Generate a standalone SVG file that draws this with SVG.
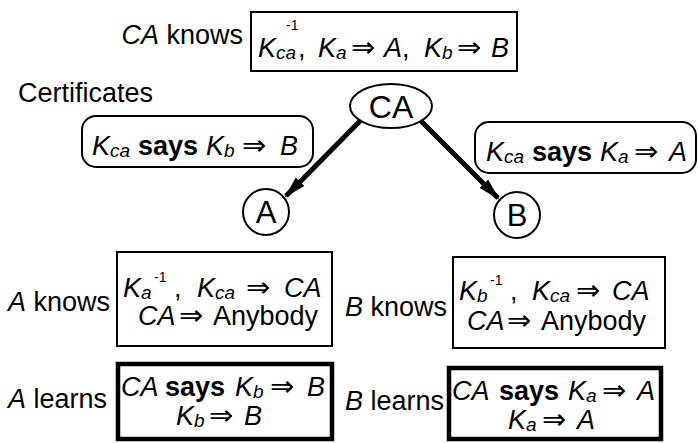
<svg xmlns="http://www.w3.org/2000/svg" width="698" height="443" viewBox="0 0 698 443">
<style>
text{font-family:"Liberation Sans","DejaVu Sans",sans-serif;font-size:27px;fill:#000}
.i{font-style:italic}
.s{font-size:19px;font-style:italic}
.sup{font-size:14px}
.b{font-weight:bold}
.ar{font-family:"DejaVu Sans",sans-serif;font-size:29px}
.box{fill:#fff;stroke:#000;stroke-width:2}
.thick{fill:#fff;stroke:#000;stroke-width:4.5}
.node{fill:#fff;stroke:#000;stroke-width:2}
.edge{stroke:#000;stroke-width:5;fill:none}
</style>
<defs>
<marker id="ah" markerUnits="userSpaceOnUse" markerWidth="24" markerHeight="14" refX="20" refY="7" orient="auto">
<path d="M0,1 L22,7 L0,13 Z" fill="#000"/>
</marker>
</defs>

<g id="ca-knows">
<text x="243" y="44" text-anchor="end"><tspan class="i">CA</tspan> knows</text>
<rect class="box" x="251" y="12" width="266" height="59"/>
<text x="258" y="57"><tspan class="i">K</tspan><tspan class="s" dy="2">ca</tspan><tspan class="sup" x="286" dy="-29">-1</tspan><tspan dy="27" x="298">,</tspan><tspan x="318" class="i">K</tspan><tspan class="s" dy="2">a</tspan><tspan class="ar" dy="-2" x="351">⇒</tspan><tspan class="i" x="384">A</tspan><tspan x="402">,</tspan><tspan x="424" class="i">K</tspan><tspan class="s" dy="2">b</tspan><tspan class="ar" dy="-2" x="457">⇒</tspan><tspan class="i" x="491">B</tspan></text>
</g>

<text x="18" y="102">Certificates</text>

<g id="CA">
<ellipse class="node" cx="391" cy="106" rx="41" ry="22"/>
<text x="391" y="118" text-anchor="middle" style="font-size:32px">CA</text>
</g>

<g id="cert-b">
<rect class="box" x="82" y="116" width="231" height="51" rx="14"/>
<text x="92" y="155"><tspan class="i">K</tspan><tspan class="s" dy="2">ca</tspan><tspan class="b" dy="-2" x="138">says</tspan><tspan class="i" x="206">K</tspan><tspan class="s" dy="2">b</tspan><tspan class="ar" dy="-2" x="242">⇒</tspan><tspan class="i" x="280">B</tspan></text>
</g>

<g id="cert-a">
<rect class="box" x="475" y="122" width="221" height="51" rx="14"/>
<text x="486" y="161"><tspan class="i">K</tspan><tspan class="s" dy="2">ca</tspan><tspan class="b" dy="-2" x="532">says</tspan><tspan class="i" x="600">K</tspan><tspan class="s" dy="2">a</tspan><tspan class="ar" dy="-2" x="634">⇒</tspan><tspan class="i" x="669">A</tspan></text>
</g>

<g id="A">
<circle class="node" cx="266" cy="212" r="23"/>
<text x="266" y="223" text-anchor="middle" style="font-size:31px">A</text>
</g>

<g id="B">
<circle class="node" cx="517" cy="215" r="23"/>
<text x="517" y="226" text-anchor="middle" style="font-size:31px">B</text>
</g>

<g id="connectors">
<line class="edge" x1="360" y1="121" x2="286" y2="196" marker-end="url(#ah)"/>
<line class="edge" x1="421" y1="121" x2="498" y2="198" marker-end="url(#ah)"/>
</g>

<g id="a-knows">
<text x="8" y="311"><tspan class="i">A</tspan> knows</text>
<rect class="box" x="117" y="252" width="215" height="94"/>
<text x="123" y="297"><tspan class="i">K</tspan><tspan class="s" dy="2">a</tspan><tspan class="sup" x="154" dy="-17">-1</tspan><tspan dy="15" x="174">,</tspan><tspan class="i" x="197">K</tspan><tspan class="s" dy="2">ca</tspan><tspan class="ar" dy="-2" x="246">⇒</tspan><tspan class="i" x="284">CA</tspan></text>
<text x="138" y="325"><tspan class="i">CA</tspan><tspan class="ar" x="179">⇒</tspan><tspan x="213">Anybody</tspan></text>
</g>

<g id="b-knows">
<text x="345" y="316"><tspan class="i">B</tspan> knows</text>
<rect class="box" x="453" y="257" width="212" height="91"/>
<text x="459" y="300"><tspan class="i">K</tspan><tspan class="s" dy="2">b</tspan><tspan class="sup" x="490" dy="-17">-1</tspan><tspan dy="15" x="510">,</tspan><tspan class="i" x="532">K</tspan><tspan class="s" dy="2">ca</tspan><tspan class="ar" dy="-2" x="576">⇒</tspan><tspan class="i" x="612">CA</tspan></text>
<text x="467" y="330"><tspan class="i">CA</tspan><tspan class="ar" x="507">⇒</tspan><tspan x="541">Anybody</tspan></text>
</g>

<g id="a-learns">
<text x="8" y="408"><tspan class="i">A</tspan> learns</text>
<rect class="thick" x="118" y="364" width="214" height="75"/>
<text x="121" y="396"><tspan class="i">CA</tspan><tspan class="b" x="165">says</tspan><tspan class="i" x="235">K</tspan><tspan class="s" dy="2">b</tspan><tspan class="ar" dy="-2" x="270">⇒</tspan><tspan class="i" x="307">B</tspan></text>
<text x="176" y="425"><tspan class="i">K</tspan><tspan class="s" dy="2">b</tspan><tspan class="ar" dy="-2" x="209">⇒</tspan><tspan class="i" x="244">B</tspan></text>
</g>

<g id="b-learns">
<text x="345" y="410"><tspan class="i">B</tspan> learns</text>
<rect class="thick" x="449" y="368" width="212" height="71"/>
<text x="452" y="400"><tspan class="i">CA</tspan><tspan class="b" x="499">says</tspan><tspan class="i" x="568">K</tspan><tspan class="s" dy="2">a</tspan><tspan class="ar" dy="-2" x="602">⇒</tspan><tspan class="i" x="637">A</tspan></text>
<text x="508" y="429"><tspan class="i">K</tspan><tspan class="s" dy="2">a</tspan><tspan class="ar" dy="-2" x="542">⇒</tspan><tspan class="i" x="577">A</tspan></text>
</g>
</svg>
